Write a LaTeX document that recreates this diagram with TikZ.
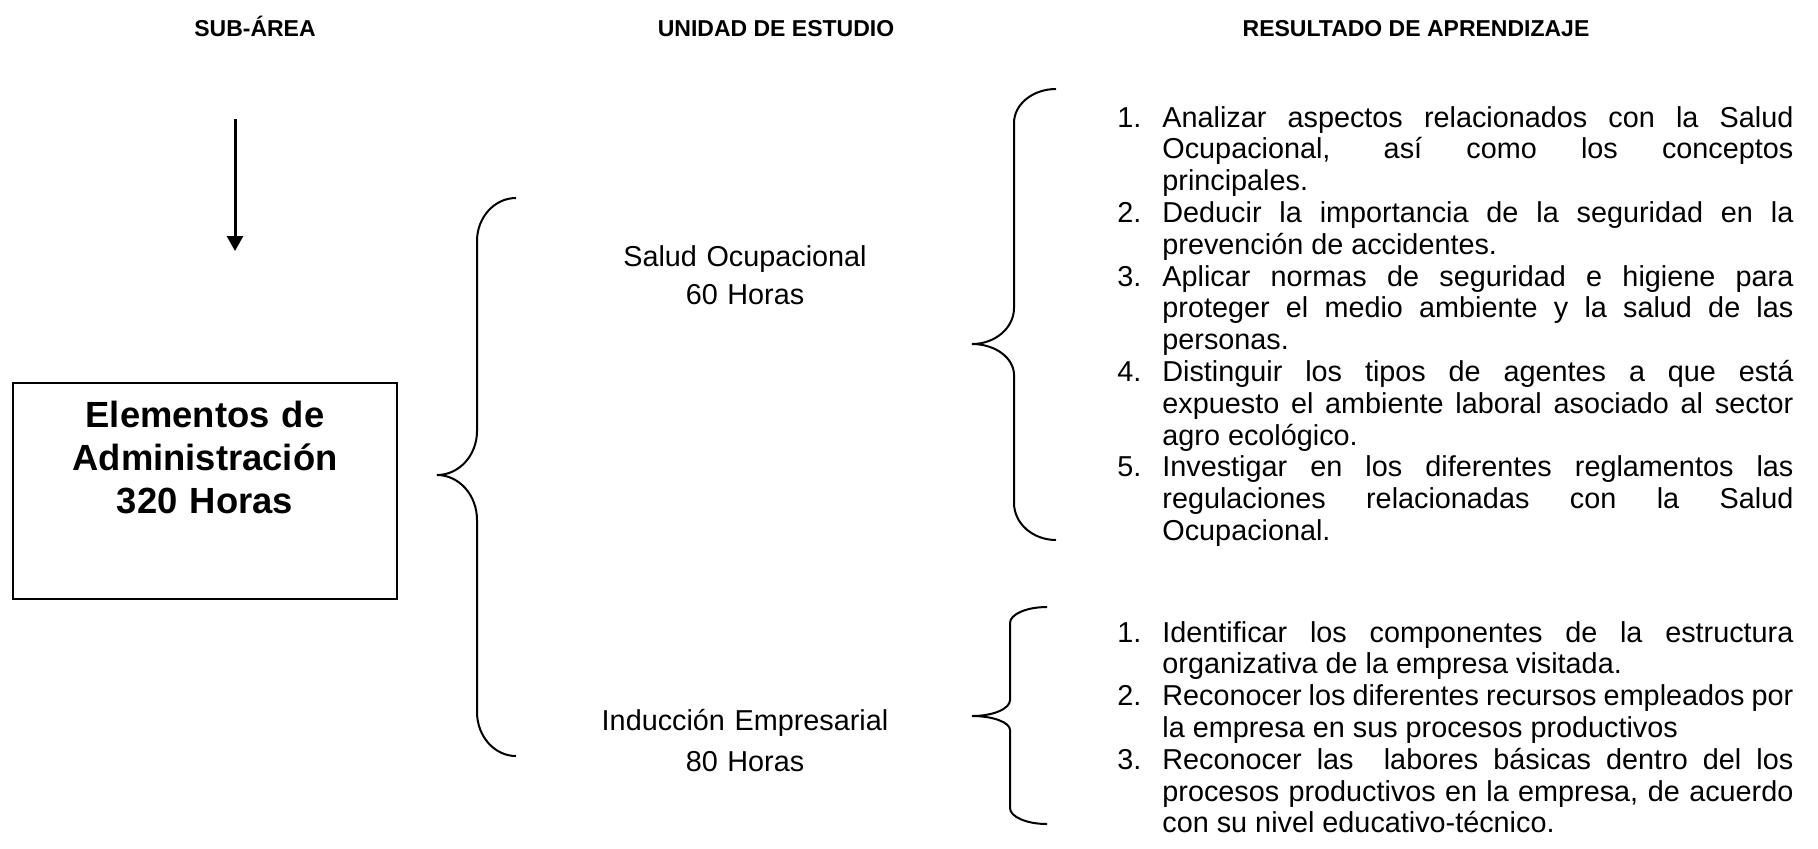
\documentclass[tikz,border=0pt]{standalone}
\usepackage{fontspec}
\setmainfont{Liberation Sans}
\usetikzlibrary{arrows.meta}
\newcommand\myitem[2]{\hangindent=22.5pt\hangafter=1\noindent\makebox[22.5pt][l]{#1}#2\par}
\begin{document}
\begin{tikzpicture}[x=0.5pt,y=-0.5pt,
  header/.style={font=\bfseries\fontsize{11.5pt}{13pt}\selectfont, inner sep=0, anchor=base},
  unittext/.style={font=\fontsize{14.4pt}{20.5pt}\selectfont, inner sep=0, anchor=base, text width=180pt, align=center},
  titletext/.style={font=\bfseries\fontsize{18.2pt}{21.5pt}\selectfont, inner sep=0, anchor=base, text width=180pt, align=center},
  listtext/.style={font=\fontsize{14.4pt}{15.9pt}\selectfont, inner sep=0, anchor=base west, text width=338pt, align=justify},
  bracket/.style={draw, line width=1pt},
  frame/.style={draw, line width=1pt, inner sep=0, minimum width=192pt, minimum height=108pt},
  flow/.style={line width=1.5pt, -{Triangle[width=8pt,length=7.5pt]}}]
\useasboundingbox (0,0) rectangle (1818,848);

% headers
\node[header] (h1) at (255,36) {SUB-ÁREA};
\node[header] (h2) at (776,36) {UNIDAD DE ESTUDIO};
\node[header] (h3) at (1416,36) {RESULTADO DE APRENDIZAJE};

% arrow
\coordinate (arrtop) at (235,119);
\coordinate (arrbot) at (235,251);
\draw[flow] (arrtop) -- (arrbot);

% box
\node[frame] (box) at (205,491) {};
\node[titletext] (title) at (205,427) {Elementos de\\Administración\\320 Horas};

% big left brace
\draw[bracket] (516,198) .. controls (494.5,198) and (477,217.3) .. (477,241)
  -- (477,431) .. controls (477,455.3) and (459.1,475) .. (437,475)
  .. controls (459.1,475) and (477,495.1) .. (477,520)
  -- (477,712) .. controls (477,736.3) and (494.5,756) .. (516,756);

% units
\node[unittext, font=\fontsize{14.4pt}{19pt}\selectfont] (u1) at (745,266) {Salud Ocupacional\\60 Horas};
\node[unittext] (u2) at (745,730) {Inducción Empresarial\\80 Horas};

% upper right brace
\draw[bracket] (1056,89) .. controls (1032.8,89) and (1014,104.2) .. (1014,123)
  -- (1014,308) .. controls (1014,327.9) and (995.2,344) .. (972,344)
  .. controls (995.2,344) and (1014,357.9) .. (1014,375)
  -- (1014,503) .. controls (1014,523.4) and (1032.8,540) .. (1056,540);

% lower right brace
\draw[bracket] (1047,607) .. controls (1026.6,607) and (1010,614.2) .. (1010,623)
  -- (1010,700) .. controls (1010,708.8) and (993,716) .. (972,716)
  .. controls (993,716) and (1010,722.3) .. (1010,730)
  -- (1010,808) .. controls (1010,816.8) and (1026.6,824) .. (1047,824);

% outcomes
\node[listtext] (r1) at (1117,127) {%
\myitem{1.}{Analizar aspectos relacionados con la Salud\linebreak Ocupacional, así como los conceptos\linebreak principales.}%
\myitem{2.}{Deducir la importancia de la seguridad en la\linebreak prevención de accidentes.}%
\myitem{3.}{Aplicar normas de seguridad e higiene para\linebreak proteger el medio ambiente y la salud de las\linebreak personas.}%
\myitem{4.}{Distinguir los tipos de agentes a que está\linebreak expuesto el ambiente laboral asociado al sector\linebreak agro ecológico.}%
\myitem{5.}{Investigar en los diferentes reglamentos las\linebreak regulaciones relacionadas con la Salud\linebreak Ocupacional.}};

\node[listtext] (r2) at (1117,642) {%
\myitem{1.}{Identificar los componentes de la estructura\linebreak organizativa de la empresa visitada.}%
\myitem{2.}{Reconocer los diferentes recursos empleados por\linebreak la empresa en sus procesos productivos}%
\myitem{3.}{Reconocer las\ \ labores básicas dentro del los\linebreak procesos productivos en la empresa, de acuerdo\linebreak con su nivel educativo-técnico.}};
\end{tikzpicture}
\end{document}
